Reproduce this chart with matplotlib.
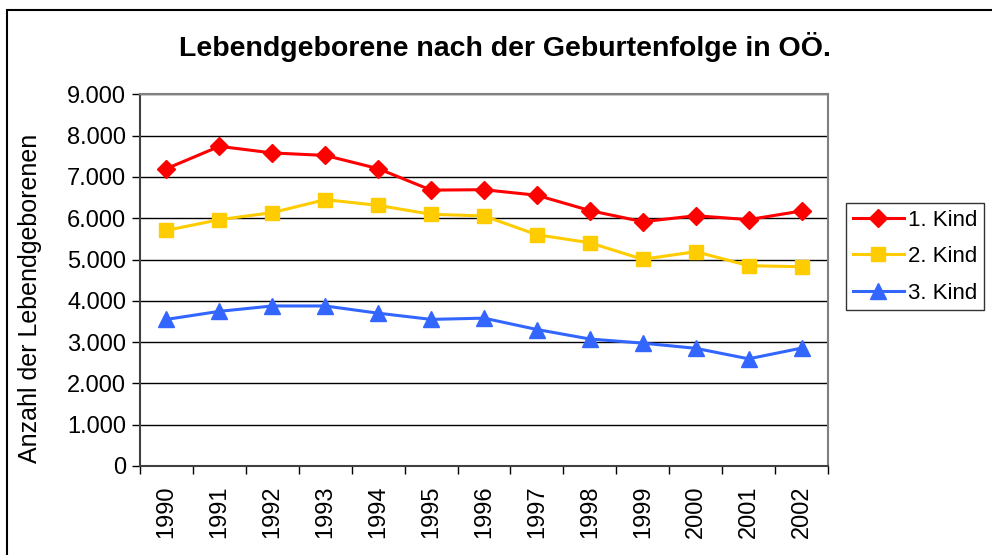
import matplotlib
matplotlib.use("Agg")
import matplotlib.pyplot as plt
from matplotlib.patches import Rectangle
from matplotlib.ticker import FuncFormatter, FixedLocator
import numpy as np

plt.rcParams['font.family'] = ['Liberation Sans', 'DejaVu Sans']

years = ["1990", "1991", "1992", "1993", "1994", "1995", "1996",
         "1997", "1998", "1999", "2000", "2001", "2002"]
kind1 = [7200, 7740, 7580, 7520, 7200, 6680, 6690, 6555, 6185, 5915, 6060, 5965, 6175]
kind2 = [5705, 5965, 6135, 6450, 6310, 6095, 6055, 5600, 5405, 5005, 5190, 4850, 4825]
kind3 = [3550, 3745, 3875, 3875, 3700, 3550, 3580, 3305, 3075, 2975, 2850, 2595, 2855]
series_names = ["1. Kind", "2. Kind", "3. Kind"]
title = "Lebendgeborene nach der Geburtenfolge in OÖ."
ylabel = "Anzahl der Lebendgeborenen"

fig = plt.figure(figsize=(9.92, 5.55), dpi=100)
ax = fig.add_axes([140/992, 1-466/555, (828-140)/992, (466-94.3)/555])

x = np.arange(len(years))
ax.plot(x, kind1, color='#ff0000', marker='D', markersize=9.5, lw=2.2, label=series_names[0], zorder=5)
ax.plot(x, kind2, color='#ffcc00', marker='s', markersize=10.5, lw=2.2, label=series_names[1], zorder=4)
ax.plot(x, kind3, color='#3366ff', marker='^', markersize=11.5, lw=2.2, label=series_names[2], zorder=3)

ax.set_xlim(-0.5, len(years) - 0.5)
ax.set_ylim(0, 9000)
ax.set_yticks(np.arange(0, 9001, 1000))
ax.yaxis.set_major_formatter(FuncFormatter(lambda v, p: f"{int(v):,}".replace(",", ".")))
ax.yaxis.grid(True, color='black', lw=1)
ax.set_axisbelow(True)

ax.set_xticks(x)
ax.set_xticklabels(years, rotation=90)
ax.xaxis.set_minor_locator(FixedLocator(np.arange(-0.5, len(years), 1)))
ax.tick_params(axis='x', which='major', length=0, pad=14, labelsize=17)
ax.tick_params(axis='x', which='minor', length=6, width=1, direction='out', color='black')
ax.tick_params(axis='y', length=6, width=1, direction='out', labelsize=17, pad=4)

for s in ['top', 'right']:
    ax.spines[s].set_color('#808080')
    ax.spines[s].set_linewidth(1.5)
ax.spines['left'].set_color('#404040')
ax.spines['left'].set_linewidth(1.5)
ax.spines['bottom'].set_color('#404040')
ax.spines['bottom'].set_linewidth(1.5)

ax.set_ylabel(ylabel, fontsize=18)
ax.yaxis.set_label_coords(-(140-30)/688, (466-298)/371.7)
ax.yaxis.label.set_va('center')

fig.text(505/992, 1-47/555, title, ha='center', va='center', fontsize=20.5, fontweight='bold')

leg = fig.legend(loc='upper left', bbox_to_anchor=(846/992, 1-203/555), fontsize=16,
                 frameon=True, fancybox=False, edgecolor='black', handlelength=2.3,
                 borderpad=0.3, labelspacing=0.7, handletextpad=0.2, borderaxespad=0)
leg.get_frame().set_linewidth(1)

fig.patches.append(Rectangle((7/992, -0.05), 1.1, 1-10/555+0.05, transform=fig.transFigure,
                             fill=False, edgecolor='black', lw=1.5))

fig.savefig("out.png", dpi=100)
